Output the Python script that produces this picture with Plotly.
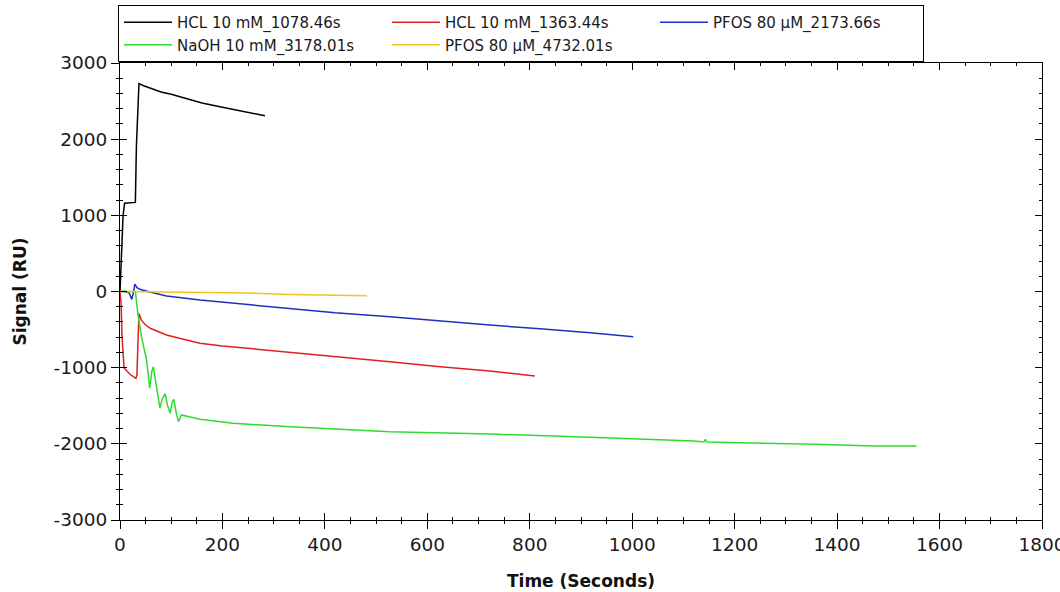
import plotly.graph_objects as go

# ---- sensorgram data: time (s) and response (RU) per injection ----
hcl1_t = [0, 2, 4, 6, 9, 20, 30, 32, 34, 37, 45, 60, 80, 100, 130, 160, 200, 240, 283]
hcl1_v = [0, 300, 800, 1000, 1160, 1165, 1170, 1900, 2250, 2730, 2705, 2665, 2620, 2590, 2530, 2475, 2420, 2370, 2308]

hcl2_t = [0, 2, 4, 6, 8, 20, 31, 33, 35, 37, 42, 50, 59, 75, 91, 120, 156, 200, 254, 332, 420, 527, 620, 722, 810]
hcl2_v = [0, -150, -600, -900, -1004, -1090, -1140, -1100, -600, -290, -380, -440, -483, -530, -571, -620, -680, -715, -748, -795, -855, -921, -985, -1044, -1109]

pfos1_t = [0, 10, 18, 23, 26, 29, 33, 39, 60, 91, 156, 254, 332, 420, 527, 620, 722, 820, 918, 1002]
pfos1_v = [0, 0, -20, -103, -20, 98, 50, 29, -10, -59, -112, -175, -228, -280, -330, -385, -440, -490, -540, -593]

naoh_t = [0, 30, 35, 42, 52, 58, 62, 65, 70, 78, 82, 88, 93, 98, 102, 105, 110, 114, 120, 140, 156, 221, 332,
          527, 722, 918, 1035, 1120, 1140, 1143, 1146, 1230, 1360, 1471, 1555]
naoh_v = [0, 0, -300, -600, -900, -1270, -1050, -990, -1200, -1530, -1420, -1340, -1500, -1600, -1450, -1416,
          -1600, -1709, -1621, -1655, -1678, -1730, -1775, -1840, -1871, -1914, -1937, -1962, -1976, -1940,
          -1976, -1985, -2006, -2028, -2028]

pfos2_t = [0, 50, 150, 250, 330, 420, 482]
pfos2_v = [0, -3, -8, -20, -38, -46, -55]

series_names = ["HCL 10 mM_1078.46s", "HCL 10 mM_1363.44s", "PFOS 80 µM_2173.66s",
                "NaOH 10 mM_3178.01s", "PFOS 80 µM_4732.01s"]
series_colors = ["#000000", "#e02020", "#1f2fbf", "#2ddc2d", "#f2c518"]

x_ticks = [0, 200, 400, 600, 800, 1000, 1200, 1400, 1600, 1800]
y_ticks = [-3000, -2000, -1000, 0, 1000, 2000, 3000]
y_tick_text = ["-3000", "-2000", "-1000", "0", "1000", "2000", "3000"]

X_RANGE = [0, 1800]
Y_RANGE = [-3000, 3000]

fig = go.Figure()
for name, color, t, v in zip(series_names, series_colors,
                             [hcl1_t, hcl2_t, pfos1_t, naoh_t, pfos2_t],
                             [hcl1_v, hcl2_v, pfos1_v, naoh_v, pfos2_v]):
    fig.add_trace(go.Scatter(x=t, y=v, mode="lines", name=name,
                             line=dict(color=color, width=1.5)))

# empty companion trace so the overlay axes (inward ticks) are drawn
fig.add_trace(go.Scatter(x=[], y=[], xaxis="x2", yaxis="y2", showlegend=False, hoverinfo="skip"))

tick_font = dict(family="DejaVu Sans", size=18.5, color="#1a1a1a")
title_font = dict(family="DejaVu Sans", size=17, color="#111111", weight="bold")

fig.update_layout(
    width=1060, height=592,
    margin=dict(l=120, r=18, t=63, b=72, autoexpand=False),
    paper_bgcolor="white", plot_bgcolor="white",
    showlegend=True,
    legend=dict(
        orientation="h", xref="container", yref="container",
        x=118 / 1060, y=1 - 5 / 592, xanchor="left", yanchor="top",
        bgcolor="white", bordercolor="black", borderwidth=1,
        font=dict(family="DejaVu Sans", size=15, color="#1a1a1a"),
        entrywidth=205, entrywidthmode="pixels",
        itemwidth=48, tracegroupgap=0,
    ),
    xaxis=dict(
        range=X_RANGE, tickmode="array", tickvals=x_ticks,
        ticks="outside", ticklen=8, tickwidth=1, tickcolor="black",
        minor=dict(dtick=50, ticks="outside", ticklen=3, tickwidth=1, tickcolor="black"),
        showline=True, linecolor="black", linewidth=1, mirror=False,
        showgrid=False, zeroline=False, tickfont=tick_font,
        ticklabeloverflow="allow",
        title=dict(text="Time (Seconds)", font=title_font, standoff=20),
    ),
    yaxis=dict(
        range=Y_RANGE, tickmode="array", tickvals=y_ticks, ticktext=y_tick_text,
        ticks="outside", ticklen=8, tickwidth=1, tickcolor="black",
        minor=dict(dtick=200, ticks="outside", ticklen=3, tickwidth=1, tickcolor="black"),
        showline=True, linecolor="black", linewidth=1, mirror=False,
        showgrid=False, zeroline=False, tickfont=tick_font,
        ticklabeloverflow="allow",
        title=dict(text="Signal (RU)", font=title_font, standoff=22),
    ),
    xaxis2=dict(
        overlaying="x", matches="x", range=X_RANGE, anchor="y2",
        tickmode="array", tickvals=x_ticks, showticklabels=False,
        ticks="inside", ticklen=7, tickwidth=1, tickcolor="black",
        minor=dict(dtick=50, ticks="inside", ticklen=3, tickwidth=1, tickcolor="black"),
        showline=True, linecolor="black", linewidth=1, mirror="allticks",
        showgrid=False, zeroline=False,
    ),
    yaxis2=dict(
        overlaying="y", matches="y", range=Y_RANGE, anchor="x2",
        tickmode="array", tickvals=y_ticks, showticklabels=False,
        ticks="inside", ticklen=7, tickwidth=1, tickcolor="black",
        minor=dict(dtick=200, ticks="inside", ticklen=3, tickwidth=1, tickcolor="black"),
        showline=True, linecolor="black", linewidth=1, mirror="allticks",
        showgrid=False, zeroline=False,
    ),
)

fig.write_html("out.html")
